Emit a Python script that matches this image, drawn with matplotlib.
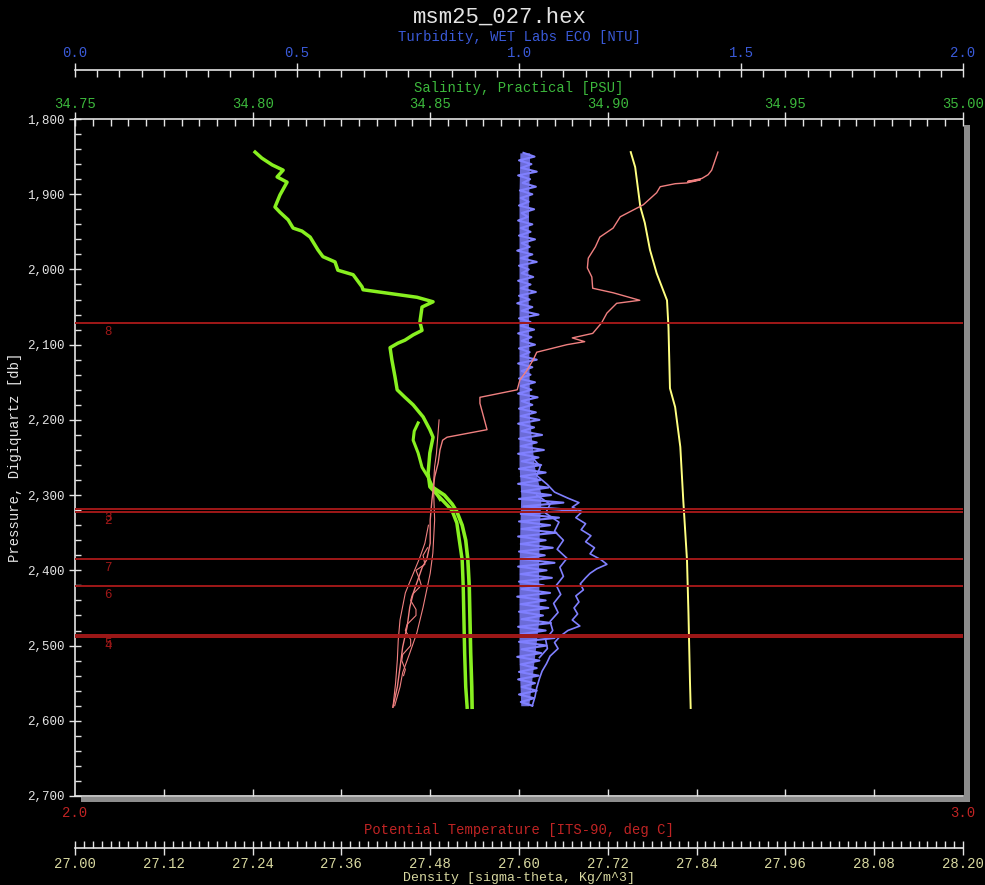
import numpy as np
import matplotlib.pyplot as plt
from matplotlib.ticker import MultipleLocator, FixedLocator, FuncFormatter, FormatStrFormatter
from matplotlib.patches import Rectangle

plt.rcParams['font.family'] = ['Liberation Mono', 'DejaVu Sans Mono']

# --- values (pressure in db) ---
# salinity, downcast
sal_p = [1844, 1852, 1861, 1868, 1877, 1884, 1901, 1917, 1924, 1934,
         1945, 1949, 1957, 1974, 1983, 1990, 2001, 2007, 2023, 2027,
         2037, 2043, 2050, 2070, 2081, 2087, 2094, 2098, 2104, 2120,
         2143, 2160, 2170, 2180, 2196, 2213, 2223, 2244, 2271, 2289,
         2306, 2320, 2337, 2360, 2386, 2422, 2466, 2510, 2555, 2582]
sal_v = [34.8007, 34.8026, 34.8055, 34.8086, 34.8069, 34.8097, 34.8077, 34.8063, 34.8077, 34.8100,
         34.8114, 34.8139, 34.8162, 34.8184, 34.8198, 34.8232, 34.8240, 34.8283, 34.8308, 34.8311,
         34.8463, 34.8508, 34.8477, 34.8471, 34.8477, 34.8452, 34.8429, 34.8409, 34.8387, 34.8392,
         34.8401, 34.8407, 34.8429, 34.8452, 34.8480, 34.8499, 34.8508, 34.8499, 34.8494, 34.8499,
         34.8533, 34.8561, 34.8575, 34.8582, 34.8590, 34.8593, 34.8595, 34.8597, 34.8600, 34.8604]
# salinity, side branch and second pass
sal_b_p = [2204, 2215, 2227, 2244, 2263, 2276, 2292, 2306]
sal_b_v = [34.8466, 34.8455, 34.8452, 34.8466, 34.8477, 34.8494, 34.8510, 34.8528]
sal_c_p = [2289, 2300, 2312, 2322, 2340, 2360, 2386, 2422, 2466, 2510, 2555, 2582]
sal_c_v = [34.8505, 34.8540, 34.8562, 34.8575, 34.8590, 34.8600, 34.8606, 34.8610,
           34.8612, 34.8614, 34.8617, 34.8618]

# turbidity, main trace (one reading every 5 db from 1845 db)
tur_p = np.arange(1845, 2581, 5)
tur_v = [1.010, 1.035, 1.000, 1.028, 1.005, 1.040, 0.998, 1.025, 1.008, 1.038, 1.002, 1.030,
         1.004, 1.022, 1.000, 1.034, 1.006, 1.020, 0.998, 1.030, 1.004, 1.026, 1.000, 1.036,
         1.006, 1.024, 0.996, 1.030, 1.004, 1.040, 1.000, 1.022, 1.006, 1.032, 0.998, 1.026,
         1.004, 1.038, 1.000, 1.024, 0.996, 1.030, 1.006, 1.044, 1.000, 1.026, 1.004, 1.034,
         0.998, 1.028, 1.006, 1.036, 1.000, 1.024, 1.004, 1.040, 0.998, 1.030, 1.006, 1.026,
         1.000, 1.036, 1.004, 1.028, 0.998, 1.042, 1.006, 1.030, 1.000, 1.038, 1.004, 1.046,
         0.998, 1.034, 1.006, 1.052, 1.000, 1.040, 1.004, 1.056, 0.998, 1.044, 1.006, 1.050,
         1.000, 1.060, 1.004, 1.048, 0.998, 1.066, 1.006, 1.072, 1.000, 1.100, 1.010, 1.130,
         1.004, 1.090, 1.000, 1.070, 1.006, 1.084, 0.998, 1.060, 1.004, 1.076, 1.000, 1.058,
         1.006, 1.080, 0.998, 1.062, 1.004, 1.074, 1.000, 1.056, 1.006, 1.070, 0.996, 1.060,
         1.004, 1.066, 1.000, 1.054, 1.006, 1.072, 0.998, 1.060, 1.004, 1.080, 1.000, 1.062,
         1.006, 1.050, 0.996, 1.046, 1.004, 1.040, 1.000, 1.044, 0.998, 1.036, 1.006, 1.040,
         1.000, 1.034, 1.004, 1.030]
# turbidity, dense core of the noise band
tur_core_p = [1845, 1900, 2000, 2100, 2200, 2260, 2300, 2340, 2400, 2460, 2520, 2580]
tur_core_lo = [1.002, 1.000, 1.000, 1.000, 1.000, 1.000, 1.004, 1.002, 1.000, 1.000, 1.000, 1.004]
tur_core_hi = [1.024, 1.022, 1.020, 1.022, 1.024, 1.034, 1.050, 1.046, 1.044, 1.046, 1.034, 1.022]
# turbidity, outer and inner passes near the bottom
tur_b_p = [2250, 2262, 2274, 2286, 2296, 2304, 2310, 2316, 2322, 2330,
           2338, 2346, 2354, 2362, 2370, 2378, 2386, 2392, 2398, 2404,
           2410, 2418, 2426, 2434, 2442, 2450, 2458, 2466, 2474, 2480,
           2488, 2496, 2504, 2514, 2524, 2534, 2544, 2556, 2568, 2580]
tur_b_v = [1.030, 1.048, 1.040, 1.064, 1.080, 1.110, 1.135, 1.120, 1.142, 1.128,
           1.150, 1.140, 1.162, 1.150, 1.170, 1.160, 1.185, 1.198, 1.175, 1.160,
           1.150, 1.138, 1.145, 1.128, 1.135, 1.124, 1.132, 1.120, 1.137, 1.110,
           1.092, 1.080, 1.088, 1.070, 1.062, 1.052, 1.046, 1.040, 1.036, 1.030]
tur_c_p = [2300, 2312, 2324, 2336, 2348, 2360, 2372, 2384, 2396, 2408,
           2420, 2432, 2444, 2456, 2468, 2480, 2492, 2504, 2516]
tur_c_v = [1.040, 1.070, 1.060, 1.090, 1.080, 1.100, 1.086, 1.108, 1.092, 1.100,
           1.084, 1.094, 1.078, 1.088, 1.070, 1.076, 1.060, 1.064, 1.046]

# potential temperature, main trace
tem_p = [1844, 1868, 1874, 1879, 1883, 1881, 1885, 1886, 1890, 1898,
         1914, 1930, 1945, 1957, 1970, 1985, 1998, 2010, 2025, 2031,
         2041, 2045, 2058, 2071, 2085, 2091, 2096, 2100, 2110, 2120,
         2134, 2147, 2160, 2170, 2178, 2191, 2213, 2223, 2227, 2240,
         2257, 2276, 2306, 2333, 2364, 2386, 2396, 2413, 2430, 2449,
         2475, 2502, 2529, 2555, 2582]
tem_v = [2.724, 2.717, 2.713, 2.706, 2.690, 2.704, 2.689, 2.676, 2.659, 2.655,
         2.640, 2.614, 2.606, 2.591, 2.586, 2.578, 2.577, 2.582, 2.583, 2.606,
         2.636, 2.610, 2.599, 2.593, 2.583, 2.560, 2.574, 2.554, 2.520, 2.516,
         2.509, 2.501, 2.498, 2.456, 2.456, 2.459, 2.464, 2.419, 2.414, 2.411,
         2.409, 2.405, 2.402, 2.400, 2.400, 2.396, 2.391, 2.386, 2.381, 2.377,
         2.374, 2.369, 2.366, 2.363, 2.358]
# potential temperature, extra passes at the bottle stops
tem_b_p = [2200, 2215, 2230, 2245, 2262, 2280, 2300, 2333, 2377, 2404,
           2449, 2483, 2510, 2536, 2555, 2580]
tem_b_v = [2.410, 2.409, 2.408, 2.407, 2.405, 2.404, 2.404, 2.405, 2.403, 2.400,
           2.392, 2.385, 2.377, 2.369, 2.366, 2.360]
tem_c_p = [2340, 2364, 2384, 2404, 2430, 2466, 2493, 2519, 2550, 2582]
tem_c_v = [2.398, 2.394, 2.388, 2.381, 2.372, 2.366, 2.364, 2.363, 2.361, 2.358]
tem_d_p = [2370, 2380, 2392, 2400, 2412, 2420, 2432, 2440, 2452,
           2460, 2472, 2480, 2492, 2500, 2512, 2520, 2532, 2540]
tem_d_v = [2.397, 2.392, 2.394, 2.384, 2.388, 2.390, 2.380, 2.378, 2.384,
           2.384, 2.374, 2.372, 2.378, 2.378, 2.369, 2.368, 2.372, 2.370]

# density (sigma-theta)
den_p = [1844, 1864, 1917, 1938, 1974, 2005, 2041, 2077, 2158, 2183,
         2236, 2307, 2386, 2457, 2546, 2583]
den_v = [27.751, 27.757, 27.764, 27.770, 27.777, 27.786, 27.800, 27.802, 27.804, 27.811,
         27.818, 27.822, 27.827, 27.829, 27.831, 27.832]

# bottle firings
bottle_ids = ['8', '3', '2', '7', '6', '5', '4']
bottle_p = [2071, 2319, 2323, 2385, 2421, 2486, 2489]

den_ticks = [27.00, 27.12, 27.24, 27.36, 27.48, 27.60, 27.72, 27.84, 27.96, 28.08, 28.20]
tem_ticks = [2.0, 3.0]

# colours
WHITE = '#e4e4e4'
C_SAL, C_SAL_TXT = '#88f020', '#3cb83c'
C_TUR, C_TUR_TXT = '#8080ff', '#3a5ad8'
C_TEM, C_TEM_TXT = '#f08080', '#c02424'
C_DEN, C_DEN_TXT = '#ffff80', '#d8d8a0'
C_BOT = '#a01818'

fig = plt.figure(figsize=(9.85, 8.85), dpi=100, facecolor='black')
ax = fig.add_axes([75/985, 89/885, 888/985, 677/885])
ax_tur = ax.twiny()
ax_sal = ax.twiny()
ax_den = ax.twiny()

for a, z in ((ax_tur, 1), (ax_sal, 2), (ax_den, 3), (ax, 4)):
    a.set_zorder(z)
    a.patch.set_visible(False)
    for s in a.spines.values():
        s.set_visible(False)

# pressure + potential temperature (main axes)
ax.set_ylim(2700, 1800)
ax.set_xlim(2.0, 3.0)
for side in ('left', 'bottom'):
    ax.spines[side].set_visible(True)
    ax.spines[side].set_color(WHITE)
    ax.spines[side].set_linewidth(1.2)
ax.yaxis.set_major_locator(MultipleLocator(100))
ax.yaxis.set_minor_locator(MultipleLocator(20))
ax.yaxis.set_major_formatter(FuncFormatter(lambda v, _: f"{v:,.0f}"))
ax.tick_params(axis='y', which='major', direction='inout', length=9, width=1,
               color=WHITE, labelcolor=WHITE, labelsize=9, pad=3)
ax.tick_params(axis='y', which='minor', direction='in', length=4.5, width=1, color=WHITE)
ax.set_ylabel('Pressure, Digiquartz [db]', color=WHITE, fontsize=10)
ax.yaxis.set_label_coords(-0.060, 0.5)

ax.xaxis.set_major_locator(FixedLocator(tem_ticks))
ax.xaxis.set_minor_locator(MultipleLocator(0.1))
ax.xaxis.set_major_formatter(FormatStrFormatter('%.1f'))
ax.tick_params(axis='x', which='major', length=0, labelcolor=C_TEM_TXT, labelsize=10, pad=7.5)
ax.tick_params(axis='x', which='minor', direction='in', length=5, width=1, color=WHITE)
ax.set_xlabel('Potential Temperature [ITS-90, deg C]', color=C_TEM_TXT, fontsize=10, labelpad=2)

# salinity (top)
ax_sal.set_xlim(34.75, 35.0)
ax_sal.spines['top'].set_visible(True)
ax_sal.spines['top'].set_color(WHITE)
ax_sal.spines['top'].set_linewidth(1.2)
ax_sal.xaxis.set_major_locator(MultipleLocator(0.05))
ax_sal.xaxis.set_minor_locator(MultipleLocator(0.005))
ax_sal.xaxis.set_major_formatter(FormatStrFormatter('%.2f'))
ax_sal.tick_params(axis='x', which='major', direction='inout', length=10, width=1,
                   color=WHITE, labelcolor=C_SAL_TXT, labelsize=10, pad=1)
ax_sal.tick_params(axis='x', which='minor', direction='in', length=5, width=1, color=WHITE)
ax_sal.set_xlabel('Salinity, Practical [PSU]', color=C_SAL_TXT, fontsize=10, labelpad=3)

# turbidity (top, offset)
ax_tur.set_xlim(0.0, 2.0)
ax_tur.spines['top'].set_visible(True)
ax_tur.spines['top'].set_position(('outward', 35.3))
ax_tur.spines['top'].set_color(WHITE)
ax_tur.spines['top'].set_linewidth(1.2)
ax_tur.xaxis.set_major_locator(MultipleLocator(0.5))
ax_tur.xaxis.set_minor_locator(MultipleLocator(0.05))
ax_tur.xaxis.set_major_formatter(FormatStrFormatter('%.1f'))
ax_tur.tick_params(axis='x', which='major', direction='inout', length=10, width=1,
                   color=WHITE, labelcolor=C_TUR_TXT, labelsize=10, pad=2)
ax_tur.tick_params(axis='x', which='minor', direction='in', length=5, width=1, color=WHITE)
ax_tur.set_xlabel('Turbidity, WET Labs ECO [NTU]', color=C_TUR_TXT, fontsize=10, labelpad=4)

# density (bottom, offset)
ax_den.set_xlim(27.0, 28.2)
ax_den.xaxis.tick_bottom()
ax_den.xaxis.set_label_position('bottom')
ax_den.spines['bottom'].set_visible(True)
ax_den.spines['bottom'].set_position(('outward', 37.4))
ax_den.spines['bottom'].set_color(WHITE)
ax_den.spines['bottom'].set_linewidth(1.2)
ax_den.xaxis.set_major_locator(FixedLocator(den_ticks))
ax_den.xaxis.set_minor_locator(MultipleLocator(0.012))
ax_den.xaxis.set_major_formatter(FormatStrFormatter('%.2f'))
ax_den.tick_params(axis='x', which='major', direction='inout', length=10, width=1,
                   color=WHITE, labelcolor=C_DEN_TXT, labelsize=10, pad=1.5)
ax_den.tick_params(axis='x', which='minor', direction='in', length=5, width=1, color=WHITE)
ax_den.set_xlabel('Density [sigma-theta, Kg/m^3]', color=C_DEN_TXT, fontsize=9.5, labelpad=0.5)

# traces
ax_tur.fill_betweenx(tur_core_p, tur_core_lo, tur_core_hi, color=C_TUR, lw=0, alpha=0.85)
ax_tur.plot(tur_v, tur_p, color=C_TUR, lw=1.5)
ax_tur.plot(tur_b_v, tur_b_p, color=C_TUR, lw=1.2)
ax_tur.plot(tur_c_v, tur_c_p, color=C_TUR, lw=1.2)

ax_sal.plot(sal_v, sal_p, color=C_SAL, lw=2.5)
ax_sal.plot(sal_b_v, sal_b_p, color=C_SAL, lw=2.2)
ax_sal.plot(sal_c_v, sal_c_p, color=C_SAL, lw=2.6)

ax_den.plot(den_v, den_p, color=C_DEN, lw=1.4)

ax.plot(tem_v, tem_p, color=C_TEM, lw=1.0)
ax.plot(tem_b_v, tem_b_p, color=C_TEM, lw=0.8)
ax.plot(tem_c_v, tem_c_p, color=C_TEM, lw=0.8)
ax.plot(tem_d_v, tem_d_p, color=C_TEM, lw=0.8)

# bottle lines and numbers (overlapping pairs print on top of each other)
for b, p in zip(bottle_ids, bottle_p):
    ax.axhline(p, color=C_BOT, lw=1.4, zorder=5)
    ax.annotate(b, xy=(0.037, p), xycoords=('axes fraction', 'data'),
                xytext=(0, -2), textcoords='offset points',
                ha='center', va='top', color=C_BOT, fontsize=9, zorder=6)

# grey drop shadow along bottom and right edges
ax.add_patch(Rectangle((6/888, -6/677), 889/888, 5/677, transform=ax.transAxes,
                       facecolor='#8c8c8c', edgecolor='none', clip_on=False, zorder=0))
ax.add_patch(Rectangle((889/888, -6/677), 6/888, 1.0, transform=ax.transAxes,
                       facecolor='#8c8c8c', edgecolor='none', clip_on=False, zorder=0))

fig.text(0.507, 0.981, 'msm25_027.hex', ha='center', va='center', color=WHITE, fontsize=16)

fig.savefig('out.png', dpi=100, facecolor='black')
